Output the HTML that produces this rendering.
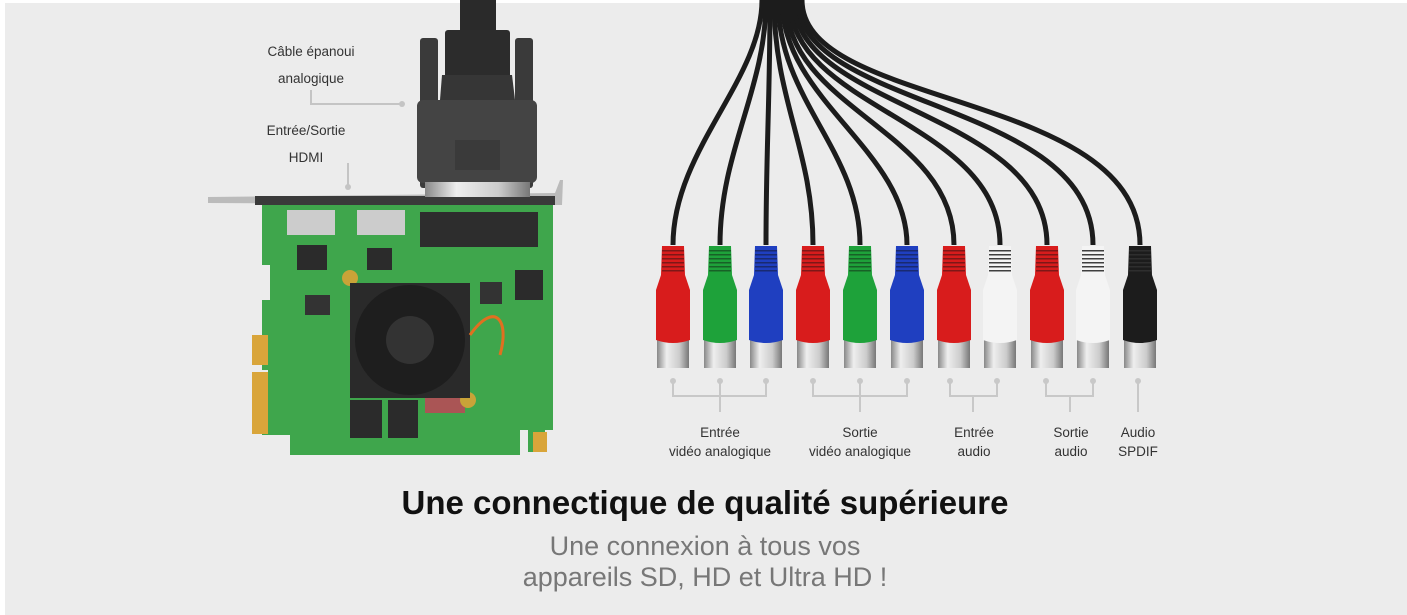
<!DOCTYPE html>
<html><head><meta charset="utf-8"><style>
html,body{margin:0;padding:0;background:#fff;}
#c{position:relative;width:1407px;height:615px;overflow:hidden;background:#fff;}
#bg{position:absolute;left:5px;top:3px;width:1402px;height:612px;background:#ececec;}
.t{position:absolute;font-family:"Liberation Sans",sans-serif;color:#333;font-size:13.5px;text-align:center;line-height:19px;}
</style></head><body><div id="c"><div id="bg"></div>
<svg width="1407" height="615" style="position:absolute;left:0;top:0">
<defs>
<linearGradient id="met" x1="0" x2="1"><stop offset="0" stop-color="#888"/><stop offset=".3" stop-color="#eee"/><stop offset=".7" stop-color="#ccc"/><stop offset="1" stop-color="#777"/></linearGradient>
</defs>
<g stroke="#c4c4c4" stroke-width="2" fill="none">
<path d="M311 90 V104 H402"/><path d="M348 163 V187"/>
</g>
<circle cx="402" cy="104" r="3" fill="#c4c4c4"/><circle cx="348" cy="187" r="3" fill="#c4c4c4"/>
<path d="M208 197 L555 193 L560 180 L563 180 L562 205 L208 203 Z" fill="#bbb"/>
<rect x="255" y="196" width="300" height="9" fill="#3a3a3a"/>
<path d="M262 205 H553 V430 H545 V452 H528 V430 H520 V455 H290 V435 H262 V375 H268 V370 H262 V300 H270 V265 H262 Z" fill="#3fa64c"/>
<rect x="252" y="335" width="16" height="30" fill="#d9a53a"/>
<rect x="252" y="372" width="16" height="62" fill="#d9a53a"/>
<rect x="533" y="432" width="14" height="20" fill="#d9a53a"/>
<rect x="287" y="210" width="48" height="25" fill="#ccc"/><rect x="357" y="210" width="48" height="25" fill="#ccc"/>
<rect x="420" y="212" width="118" height="35" fill="#2d2d2d"/>
<rect x="297" y="245" width="30" height="25" fill="#2b2b2b"/>
<rect x="367" y="248" width="25" height="22" fill="#2b2b2b"/>
<rect x="515" y="270" width="28" height="30" fill="#2b2b2b"/>
<rect x="480" y="282" width="22" height="22" fill="#333"/>
<rect x="305" y="295" width="25" height="20" fill="#333"/>
<rect x="350" y="400" width="32" height="38" fill="#2b2b2b"/><rect x="388" y="400" width="30" height="38" fill="#2b2b2b"/>
<rect x="425" y="398" width="40" height="15" fill="#a55"/>
<circle cx="350" cy="278" r="8" fill="#c9a338"/><circle cx="468" cy="400" r="8" fill="#c9a338"/>
<rect x="350" y="283" width="120" height="115" fill="#2a2a2a"/>
<circle cx="410" cy="340" r="55" fill="#1e1e1e"/>
<circle cx="410" cy="340" r="24" fill="#333"/>
<path d="M470 335 C495 300 510 320 500 355" stroke="#e07020" stroke-width="3" fill="none"/>
<rect x="460" y="0" width="36" height="35" fill="#2a2a2a"/>
<rect x="420" y="38" width="18" height="150" rx="3" fill="#3a3a3a"/>
<rect x="515" y="38" width="18" height="150" rx="3" fill="#3a3a3a"/>
<rect x="445" y="30" width="65" height="48" rx="3" fill="#2c2c2c"/>
<path d="M442 75 H512 L515 100 H440 Z" fill="#363636"/>
<rect x="417" y="100" width="120" height="83" rx="6" fill="#444"/>
<rect x="455" y="140" width="45" height="30" fill="#3a3a3a"/>
<rect x="425" y="182" width="105" height="15" fill="url(#met)"/>
<g stroke="#1c1c1c" stroke-width="5" fill="none">
<path d="M762 0 C762 80 673 150 673 245"/>
<path d="M766 0 C766 90 720 150 720 245"/>
<path d="M770 0 C770 100 766 150 766 245"/>
<path d="M774 0 C774 100 813 150 813 245"/>
<path d="M778 0 C778 100 860 150 860 245"/>
<path d="M782 0 C782 100 907 150 907 245"/>
<path d="M786 0 C786 110 954 130 954 245"/>
<path d="M790 0 C790 110 1000 120 1000 245"/>
<path d="M794 0 C794 110 1047 110 1047 245"/>
<path d="M798 0 C798 110 1093 100 1093 245"/>
<path d="M802 0 C802 110 1140 90 1140 245"/>
</g>
<g id="plugs"></g>
<g stroke="#c8c8c8" stroke-width="2" fill="none">
<path d="M673 382 V396 H766 V382 M720 382 V412"/>
<path d="M813 382 V396 H907 V382 M860 382 V412"/>
<path d="M950 382 V396 H997 V382 M973 396 V412"/>
<path d="M1046 382 V396 H1093 V382 M1070 396 V412"/>
<path d="M1138 382 V412"/>
</g>
<g fill="#c8c8c8">
<circle cx="673" cy="381" r="3"/><circle cx="720" cy="381" r="3"/><circle cx="766" cy="381" r="3"/>
<circle cx="813" cy="381" r="3"/><circle cx="860" cy="381" r="3"/><circle cx="907" cy="381" r="3"/>
<circle cx="950" cy="381" r="3"/><circle cx="997" cy="381" r="3"/>
<circle cx="1046" cy="381" r="3"/><circle cx="1093" cy="381" r="3"/><circle cx="1138" cy="381" r="3"/>
</g>
</svg>
<script>
var xs=[673,720,766,813,860,907,954,1000,1047,1093,1140];
var cs=['#d81c1c','#1ea23a','#1f3fc0','#d81c1c','#1ea23a','#1f3fc0','#d81c1c','#f4f4f4','#d81c1c','#f4f4f4','#1c1c1c'];
var s='';
for(var i=0;i<11;i++){var x=xs[i],c=cs[i];
s+='<rect x="'+(x-16)+'" y="340" width="32" height="28" fill="url(#met)"/>';
s+='<path d="M'+(x-11)+' 246 H'+(x+11)+' L'+(x+12)+' 275 L'+(x+17)+' 290 V340 Q'+x+' 346 '+(x-17)+' 340 V290 L'+(x-12)+' 275 Z" fill="'+c+'"/>';
for(var k=0;k<6;k++)s+='<rect x="'+(x-11)+'" y="'+(250+k*4)+'" width="22" height="1.5" fill="'+(i==10?'#444':'#111')+'" opacity="'+(i==7||i==9?0.8:0.45)+'"/>';}
document.getElementById('plugs').innerHTML=s;
</script>
<div class="t" style="left:241px;top:38px;width:140px;line-height:27px">Câble épanoui<br>analogique</div>
<div class="t" style="left:236px;top:117px;width:140px;line-height:27px">Entrée/Sortie<br>HDMI</div>
<div class="t" style="left:655px;top:423px;width:130px">Entrée<br>vidéo analogique</div>
<div class="t" style="left:795px;top:423px;width:130px">Sortie<br>vidéo analogique</div>
<div class="t" style="left:934px;top:423px;width:80px">Entrée<br>audio</div>
<div class="t" style="left:1031px;top:423px;width:80px">Sortie<br>audio</div>
<div class="t" style="left:1098px;top:423px;width:80px">Audio<br>SPDIF</div>
<div class="t" style="left:255px;top:483px;width:900px;font-size:33px;font-weight:bold;color:#111;line-height:40px">Une connectique de qualité supérieure</div>
<div class="t" style="left:405px;top:531px;width:600px;font-size:27px;color:#777;line-height:31px">Une connexion à tous vos<br>appareils SD, HD et Ultra HD !</div>
</div></body></html>
